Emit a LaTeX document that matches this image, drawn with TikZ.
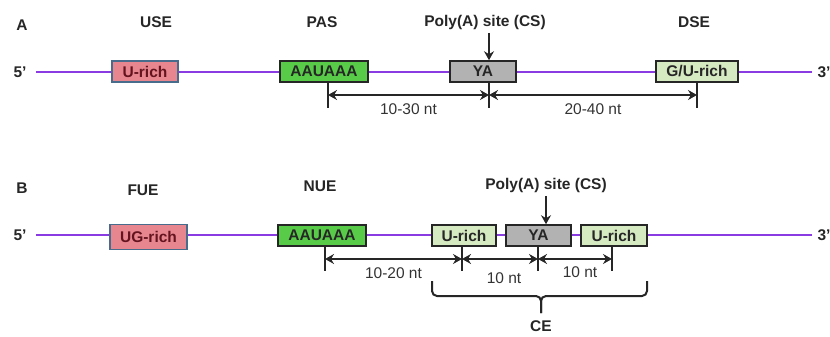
\documentclass[tikz,border=0pt]{standalone}
\usepackage{fontspec}
\setmainfont{Liberation Sans}
\usepackage{xcolor}
\usetikzlibrary{positioning, arrows.meta}
\definecolor{rnaviolet}{RGB}{138,60,226}
\definecolor{richpink}{RGB}{232,134,144}
\definecolor{pinkedge}{RGB}{72,108,140}
\definecolor{pinktext}{RGB}{100,20,30}
\definecolor{pasgreen}{RGB}{88,204,72}
\definecolor{yagray}{RGB}{178,178,178}
\definecolor{palegreen}{RGB}{214,234,194}

\begin{document}
\begin{tikzpicture}[x=1pt, y=-1pt,
  elem/.style={draw=black!85, line width=1.6pt, minimum height=21pt, inner sep=0pt, font=\fontsize{15.5}{17}\selectfont\bfseries, text=black!85},
  pinkel/.style={elem, fill=richpink, draw=pinkedge, text=pinktext},
  lbl/.style={font=\fontsize{15.5}{17}\selectfont\bfseries, text=black!85},
  dimlbl/.style={font=\fontsize{15.5}{17}\selectfont, text=black!80},
  rna/.style={line width=2.6pt, color=rnaviolet},
  tickln/.style={line width=2pt, color=black!85},
  dim/.style={{Stealth[length=9pt,width=10pt,inset=3pt]}-{Stealth[length=9pt,width=10pt,inset=3pt]}, line width=2pt, color=black!85},
  cut/.style={-{Stealth[length=9pt,width=10pt,inset=3pt]}, line width=2pt, color=black!85}]
  \useasboundingbox (0,0) rectangle (830,337);

  % panel A
  \node[lbl] (tagA) at (22,25) {A};
  \node[lbl] (endA5) at (20,72) {5'};
  \node[lbl] (endA3) at (824,72) {3'};
  \draw[rna] (endA5.east) ++(6,0) coordinate (rnaA0) -- (812,72) coordinate (rnaA1);
  \node[pinkel, minimum width=66pt] (useA) at (145,71.5) {U-rich};
  \node[elem, fill=pasgreen, minimum width=88pt] (pasA) at (324,71.5) {AAUAAA};
  \node[elem, fill=yagray, minimum width=66pt] (yaA) at (483,71.5) {YA};
  \node[elem, fill=palegreen, minimum width=82pt] (dseA) at (697,71.5) {G/U-rich};
  \node[lbl] at (156,22) {USE};
  \node[lbl] at (322,22) {PAS};
  \node[lbl] (csA) at (485,22) {Poly(A) site (CS)};
  \node[lbl] at (694,22) {DSE};
  \draw[cut] (csA.south -| 489,0) -- (yaA.north -| 489,0);
  \foreach \nm/\x in {pA/328, cA/489, dA/697} {
    \draw[tickln] (\x,82) -- (\x,108);
    \coordinate (\nm) at (\x,95);
  }
  \draw[dim] (pA) -- node[dimlbl, below=4pt] {10-30 nt} (cA);
  \draw[dim] (cA) -- node[dimlbl, below=4pt] {20-40 nt} (dA);

  % panel B
  \node[lbl] (tagB) at (22,188) {B};
  \node[lbl] (endB5) at (20,235) {5'};
  \node[lbl] (endB3) at (824,235) {3'};
  \draw[rna] (endB5.east) ++(6,0) coordinate (rnaB0) -- (812,235) coordinate (rnaB1);
  \node[pinkel, minimum width=77pt, minimum height=25pt] (fueB) at (148.5,237) {UG-rich};
  \node[elem, fill=pasgreen, minimum width=88pt] (nueB) at (322,235.5) {AAUAAA};
  \node[elem, fill=palegreen, minimum width=64pt] (ceuB) at (464,235.5) {U-rich};
  \node[elem, fill=yagray, minimum width=65pt] (yaB) at (538.5,235.5) {YA};
  \node[elem, fill=palegreen, minimum width=66pt] (cedB) at (614,235.5) {U-rich};
  \node[lbl] at (143,190) {FUE};
  \node[lbl] at (320,186) {NUE};
  \node[lbl] (csB) at (546,185) {Poly(A) site (CS)};
  \draw[cut] (csB.south -| 546,0) -- (yaB.north -| 546,0);
  \foreach \nm/\x in {pB/325, uB/462, cB/538, dB/612} {
    \draw[tickln] (\x,246) -- (\x,271);
    \coordinate (\nm) at (\x,259);
  }
  \draw[dim] (pB) -- node[dimlbl, below=4pt] {10-20 nt} (uB);
  \draw[dim] (uB) -- node[dimlbl, below=9pt, xshift=4pt] {10 nt} (cB);
  \draw[dim] (cB) -- node[dimlbl, below=3pt, xshift=5pt] {10 nt} (dB);
  \node[lbl] (ceB) at (541,326) {CE};
  \draw[tickln, line width=2pt, rounded corners=5pt] (432,281) |- (541,296) -- (ceB.north |- 0,313);
  \draw[tickln, line width=2pt, rounded corners=5pt] (647,281) |- (541,296) -- (ceB.north |- 0,313);
\end{tikzpicture}
\end{document}
